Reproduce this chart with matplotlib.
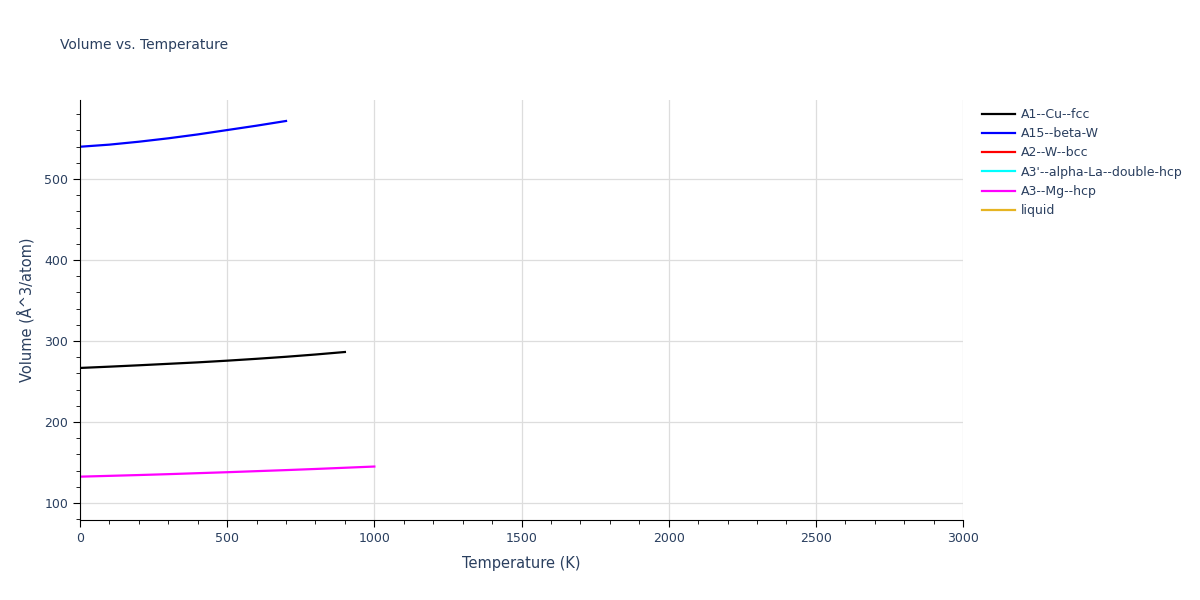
import numpy as np
import matplotlib
matplotlib.use("Agg")
import matplotlib.pyplot as plt
from matplotlib.ticker import MultipleLocator

# data
t_a1 = [0, 100, 200, 300, 400, 500, 600, 700, 800, 900]
v_a1 = [266.7, 268.3, 270.0, 271.8, 273.6, 275.7, 278.0, 280.5, 283.3, 286.4]

t_a15 = [0, 100, 200, 300, 400, 500, 600, 700]
v_a15 = [539.8, 542.4, 546.0, 550.2, 555.0, 560.4, 565.8, 571.6]

t_a3 = [0, 100, 200, 300, 400, 500, 600, 700, 800, 900, 1000]
v_a3 = [132.5, 133.5, 134.5, 135.6, 136.8, 138.0, 139.3, 140.6, 142.0, 143.5, 145.0]

names = ["A1--Cu--fcc", "A15--beta-W", "A2--W--bcc",
         "A3'--alpha-La--double-hcp", "A3--Mg--hcp", "liquid"]
colors = ["black", "blue", "red", "cyan", "magenta", "#e6b422"]
series = [(t_a1, v_a1), (t_a15, v_a15), ([], []), ([], []), (t_a3, v_a3), ([], [])]

txt = "#2a3f5f"
plt.rcParams['font.family'] = ['DejaVu Sans']

fig = plt.figure(figsize=(12, 6), dpi=100)
ax = fig.add_axes([80/1200, 80/600, 883/1200, 420/600])

for (t, v), c, n in zip(series, colors, names):
    ax.plot(t, v, color=c, lw=1.6, label=n)

ax.set_xlim(0, 3000)
ax.set_ylim(79, 597.5)
ax.xaxis.set_major_locator(MultipleLocator(500))
ax.xaxis.set_minor_locator(MultipleLocator(100))
ax.yaxis.set_major_locator(MultipleLocator(100))
ax.yaxis.set_minor_locator(MultipleLocator(20))
ax.grid(True, which='major', color='#dddddd', lw=0.9)
ax.set_axisbelow(True)
for s in ['top', 'right']:
    ax.spines[s].set_visible(False)
for s in ['left', 'bottom']:
    ax.spines[s].set_color('black')
ax.tick_params(which='major', length=5, color='black', labelsize=9, labelcolor=txt)
ax.tick_params(which='minor', length=3, color='black')
ax.set_xlabel("Temperature (K)", fontsize=10.5, color=txt, labelpad=8)
ax.set_ylabel("Volume (Å^3/atom)", fontsize=10.5, color=txt, labelpad=7)

fig.text(60/1200, 1 - 45/600, "Volume vs. Temperature", fontsize=10, color=txt, va='center')

fig.legend(loc='upper left', bbox_to_anchor=(977/1200, 1 - 103/600), frameon=False,
           fontsize=9, labelcolor=txt, handlelength=2.6, handletextpad=0.5,
           labelspacing=0.5, borderaxespad=0)

fig.savefig("out.png", dpi=100)
